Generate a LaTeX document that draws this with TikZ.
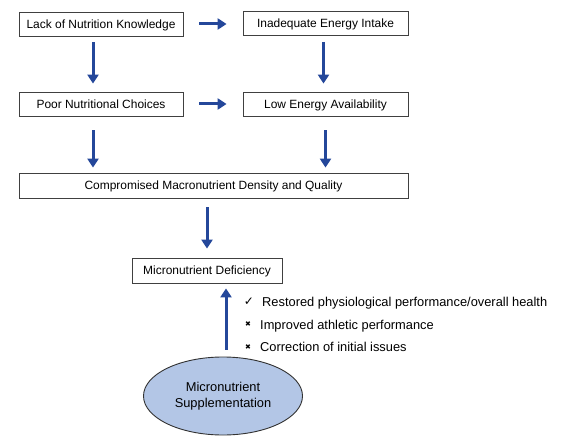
\documentclass[tikz,border=0pt]{standalone}
\usepackage{fontspec}
\setmainfont{Liberation Sans}
\newfontfamily\symfont{DejaVu Sans}
\usetikzlibrary{arrows.meta,shapes.geometric}
\definecolor{arrblue}{HTML}{24479A}
\definecolor{ellfill}{HTML}{B3C6E6}
\tikzset{
  box/.style={draw=black!75, line width=0.8bp, rectangle, minimum height=24bp, inner sep=0pt, text height=8.6bp, text depth=0bp, font=\fontsize{12}{14}\selectfont},
  flow/.style={draw=arrblue, line width=3bp, -{Triangle[length=9bp,width=11bp]}},
  benefit/.style={anchor=west, inner sep=0pt, text height=9.2bp, text depth=0bp, font=\fontsize{12.9}{15}\selectfont},
  tick/.style={anchor=center, inner sep=0pt}
}
\begin{document}
\begin{tikzpicture}[x=1bp,y=-1bp]
\useasboundingbox (0,0) rectangle (568,447);
\node[box, minimum width=164bp] (b1) at (101,24) {Lack of Nutrition Knowledge};
\node[box, minimum width=165bp] (b2) at (325.5,23.5) {Inadequate Energy Intake};
\node[box, minimum width=164bp] (b3) at (101,104) {Poor Nutritional Choices};
\node[box, minimum width=165bp] (b4) at (325.5,104) {Low Energy Availability};
\node[box, minimum width=389bp, minimum height=25bp] (b5) at (213.5,185.5) {Compromised Macronutrient Density and Quality};
\node[box, minimum width=150bp, minimum height=25bp] (b6) at (207,270.5) {Micronutrient Deficiency};
\node[ellipse, draw=black!80, line width=0.9bp, fill=ellfill, minimum width=159bp, minimum height=78bp, inner sep=0pt, align=center, font=\fontsize{12.9}{16}\selectfont] (e) at (223,396) {Micronutrient\\Supplementation};

\draw[flow, shorten <=16bp, shorten >=16bp] (b1.east) -- (b1.east -| b2.west);
\draw[flow, shorten <=16bp, shorten >=16bp] (b3.east) -- (b3.east -| b4.west);
\draw[flow, shorten <=6bp, shorten >=8bp] ([xshift=-8bp]b1.south) -- ([xshift=-8bp]b3.north);
\draw[flow, shorten <=6bp, shorten >=8bp] ([xshift=-2bp]b2.south) -- ([xshift=-2bp]b4.north);
\draw[flow, shorten <=14bp, shorten >=5bp] ([xshift=-8bp]b3.south) -- ([xshift=-8bp]b3.south |- b5.north);
\draw[flow, shorten <=14bp, shorten >=5bp] (b4.south) -- (b4.south |- b5.north);
\draw[flow, shorten <=9bp, shorten >=9bp] (b6.north |- b5.south) -- (b6.north);
\draw[flow, shorten <=7bp, shorten >=5bp] ([xshift=3bp]e.north) -- ([xshift=3bp]e.north |- b6.south);

\node[tick, font=\symfont\fontsize{12}{14}\selectfont] (m1) at (249,302) {✓};
\node[benefit] (t1) at (262,302) {Restored physiological performance/overall health};
\node[tick, font=\symfont\fontsize{7}{8}\selectfont] (m2) at (248,324.5) {✖};
\node[benefit] (t2) at (260,324.5) {Improved athletic performance};
\node[tick, font=\symfont\fontsize{7}{8}\selectfont] (m3) at (248,347) {✖};
\node[benefit] (t3) at (260,347) {Correction of initial issues};
\end{tikzpicture}
\end{document}
